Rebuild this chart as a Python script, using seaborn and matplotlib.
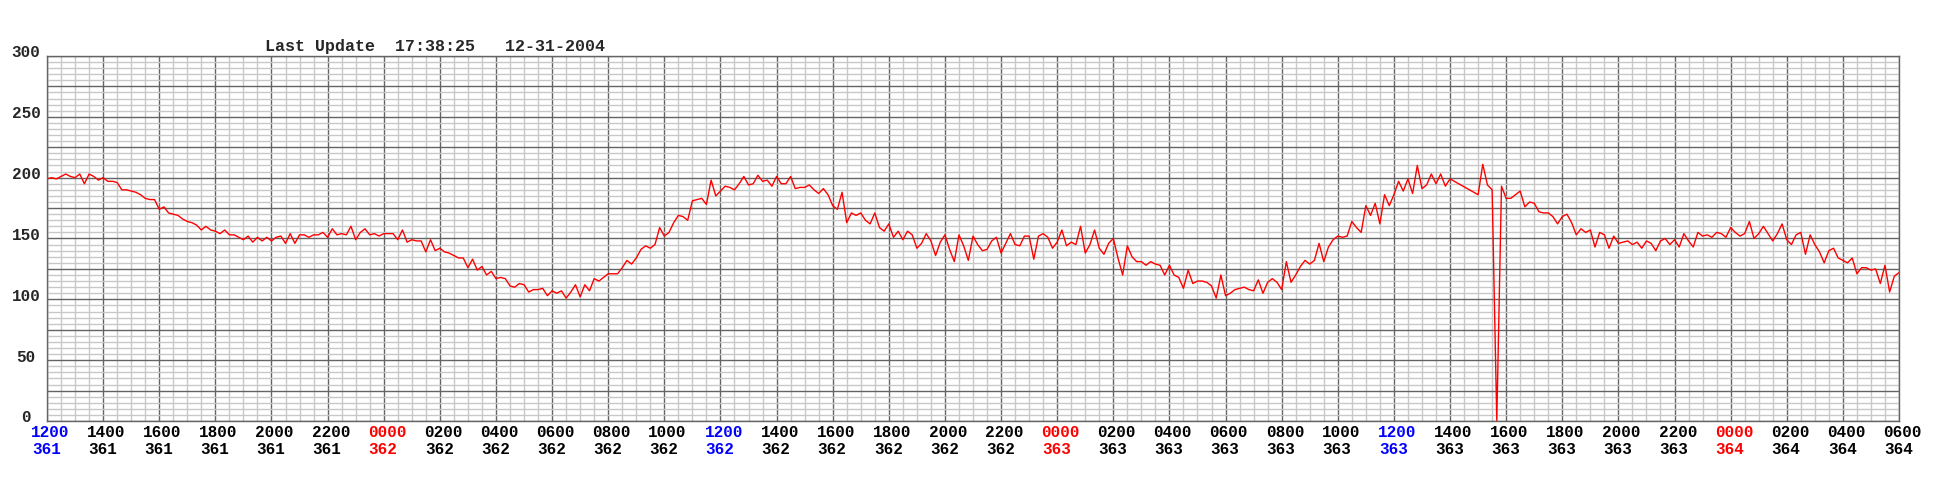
import numpy as np
import pandas as pd
import seaborn as sns
import matplotlib.pyplot as plt
from matplotlib.ticker import MultipleLocator
from matplotlib.transforms import ScaledTranslation, blended_transform_factory

# readings every 10 minutes, starting 1200 on day 361
day361 = [199, 200, 199, 201, 203, 201, 200, 203, 195, 203,
          201, 198, 200, 197, 197, 196, 190, 190, 189, 188,
          186, 183, 182, 182, 174, 176, 171, 170, 169, 166,
          164, 163, 161, 157, 160, 157, 156, 154, 157, 153,
          153, 151, 149, 152, 147, 151, 148, 151, 148, 151,
          152, 146, 154, 146, 153, 153, 151, 153, 153, 155,
          151, 158, 153, 154, 153, 160, 149, 155, 158, 153,
          154, 152]
day362 = [154, 154, 154, 149, 157, 147, 149, 148,
          148, 139, 149, 140, 142, 139, 138, 136, 134, 134,
          126, 133, 124, 127, 120, 123, 117, 118, 117, 111,
          110, 113, 112, 106, 108, 108, 109, 103, 107, 105,
          107, 101, 106, 112, 102, 112, 107, 117, 115, 118,
          121, 121, 121, 126, 132, 129, 134, 141, 144, 142,
          145, 159, 152, 155, 163, 169, 168, 165, 181, 182,
          183, 178, 198, 185, 189, 193, 192, 190, 195, 201,
          194, 195, 202, 197, 198, 193, 201, 195, 195, 201,
          191, 192, 192, 194, 190, 187, 191, 186, 177, 174,
          188, 163, 171, 169, 171, 165, 162, 171, 159, 156,
          162, 151, 156, 149, 156, 153, 142, 146, 154, 148,
          136, 147, 153, 141, 131, 153, 144, 132, 152, 145,
          140, 141, 148, 151, 138, 146, 154, 145, 144, 152,
          152, 133, 152, 154, 151, 142]
day363 = [147, 157, 144, 147, 145, 160, 138, 145, 157, 142,
          137, 146, 150, 134, 120, 144, 135, 131, 131, 128,
          131, 129, 128, 120, 128, 120, 118, 109, 124, 113,
          115, 115, 114, 111, 101, 120, 103, 105, 108, 109,
          110, 108, 107, 116, 105, 114, 117, 114, 108, 131,
          114, 120, 127, 132, 129, 132, 146, 131, 143, 149,
          152, 151, 152, 164, 159, 155, 177, 169, 179, 162,
          186, 177, 186, 197, 189, 199, 187, 210, 191, 194,
          203, 195, 203, 193, 199, None, None, None, None, None,
          186, 211, 194, 190, 0, 193, 183, 183, 186, 189,
          176, 180, 179, 172, 171, 171, 168, 162, 168, 170,
          163, 153, 158, 155, 157, 143, 155, 153, 142, 152,
          146, 147, 148, 145, 147, 142, 148, 146, 140, 148,
          150, 145, 149, 143, 154, 148, 143, 155, 152, 153,
          151, 155, 154, 151]
day364 = [159, 155, 152, 154, 164, 150, 154, 160, 154, 148,
          154, 162, 149, 145, 153, 155, 137, 153, 145, 139,
          130, 140, 142, 134, 132, 130, 134, 121, 126, 126,
          124, 125, 113, 128, 106, 119, 122]

tick_times = ['1200', '1400', '1600', '1800', '2000', '2200'] + \
             ['0000', '0200', '0400', '0600', '0800', '1000', '1200', '1400', '1600', '1800', '2000', '2200'] * 2 + \
             ['0000', '0200', '0400', '0600']
tick_days = ['361'] * 6 + ['362'] * 12 + ['363'] * 12 + ['364'] * 4
y_labels = [0, 50, 100, 150, 200, 250, 300]

values = day361 + day362 + day363 + day364
df = pd.DataFrame({'hours': np.arange(len(values)) / 6.0,
                   'value': pd.to_numeric(pd.Series(values), errors='coerce')})
df = df.dropna()

sns.set_style('white')
plt.rcParams['font.family'] = ['Liberation Mono', 'DejaVu Sans Mono']
plt.rcParams['font.weight'] = 'bold'

fig = plt.figure(figsize=(19.35, 4.80), dpi=100)
ax = fig.add_axes([47 / 1935, 1 - 421 / 480, 1852 / 1935, 365 / 480])

ax.xaxis.set_minor_locator(MultipleLocator(0.5))
ax.yaxis.set_minor_locator(MultipleLocator(5))
ax.grid(which='minor', color='#c8c8c8', linewidth=1.0)
ax.grid(which='major', color='#646464', linewidth=1.0)
ax.set_axisbelow(True)

sns.lineplot(data=df, x='hours', y='value', color='#ff0000', linewidth=1.0,
             estimator=None, ax=ax)

ax.set_xlim(0, 66)
ax.set_ylim(0, 300)
ax.set_xlabel('')
ax.set_ylabel('')

xt = list(range(0, 67, 2))
ax.set_yticks(range(0, 301, 25))
ax.set_yticklabels([])
ax.set_xticks(xt)
ax.set_xticklabels([])

# y labels centred left of the axis, sitting just on their gridline
ytrans = blended_transform_factory(ax.transAxes, ax.transData)
for v in y_labels:
    ax.text(0, v, str(v), fontsize=11.5, fontweight='bold', ha='center', va='baseline',
            transform=ytrans + ScaledTranslation(-21 / 100, -1.5 / 100, fig.dpi_scale_trans))

# two-line x labels, left edge a little before each tick
trans = blended_transform_factory(ax.transData, ax.transAxes)
for x, t, d in zip(xt, tick_times, tick_days):
    if t == '1200':
        c = '#0000ff'
    elif t == '0000':
        c = '#ff0000'
    else:
        c = 'black'
    ax.text(x, 0, t, color=c, fontsize=11.5, fontweight='bold', ha='left', va='baseline',
            transform=trans + ScaledTranslation(-16 / 100, -16 / 100, fig.dpi_scale_trans))
    ax.text(x, 0, d, color=c, fontsize=11.5, fontweight='bold', ha='left', va='baseline',
            transform=trans + ScaledTranslation(-15 / 100, -33 / 100, fig.dpi_scale_trans))

ax.tick_params(axis='both', which='both', length=0)
for s in ax.spines.values():
    s.set_color('#646464')
    s.set_linewidth(1.0)

fig.text(265 / 1935, 1 - 51 / 480, 'Last Update  17:38:25   12-31-2004',
         fontsize=12, fontweight='bold', ha='left', va='baseline')

fig.savefig('out.png', dpi=100, facecolor='white')
